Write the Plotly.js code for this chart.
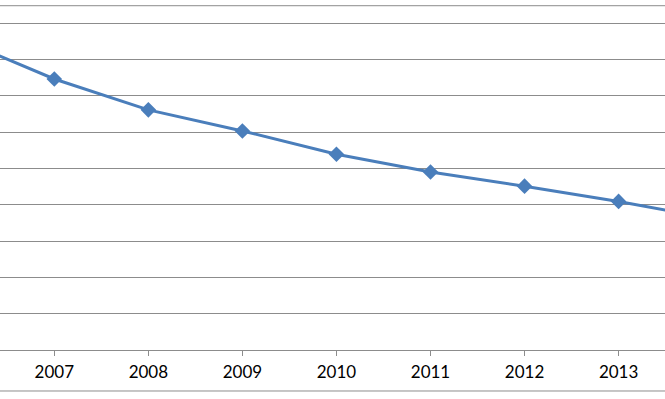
<!DOCTYPE html>
<html>
<head>
<meta charset="utf-8">
<script src="https://cdn.plot.ly/plotly-3.0.1.min.js"></script>
<style>html,body{margin:0;padding:0;background:#fff;}#chart{width:665px;height:399px;}</style>
</head>
<body>
<div id="chart"></div>
<script>
const years = [2006, 2007, 2008, 2009, 2010, 2011, 2012, 2013, 2014];
const values = [85.5, 74.6, 66.1, 60.3, 53.9, 49.0, 45.1, 40.9, 36.1];
const tickYears = [2007, 2008, 2009, 2010, 2011, 2012, 2013];
const tickLabels = ['2007', '2008', '2009', '2010', '2011', '2012', '2013'];

const trace = {
  x: years,
  y: values,
  type: 'scatter',
  mode: 'lines+markers',
  line: {color: '#4a7ebb', width: 3},
  marker: {symbol: 'diamond', size: 12, color: '#4a7ebb'},
  cliponaxis: true,
  hoverinfo: 'skip'
};

const layout = {
  width: 665,
  height: 399,
  margin: {l: 0, r: 0, t: 0, b: 49, pad: 0},
  paper_bgcolor: '#ffffff',
  plot_bgcolor: '#ffffff',
  showlegend: false,
  xaxis: {
    range: [2006.4226, 2013.4934],
    tickvals: tickYears,
    ticktext: tickLabels,
    showgrid: false,
    zeroline: false,
    showline: true,
    linecolor: '#8c8c8c',
    linewidth: 1,
    ticks: 'outside',
    ticklen: 5,
    tickcolor: '#8c8c8c',
    ticklabelstandoff: 2,
    tickfont: {family: 'Lato, "Noto Sans", sans-serif', size: 17, color: '#000'},
    fixedrange: true
  },
  yaxis: {
    range: [0, 96.34],
    dtick: 10,
    tick0: 0,
    showticklabels: false,
    showgrid: true,
    gridcolor: '#8c8c8c',
    gridwidth: 1,
    zeroline: false,
    showline: false,
    ticks: '',
    fixedrange: true
  },
  shapes: [
    {type: 'line', xref: 'paper', yref: 'paper', x0: 0, x1: 1, y0: 0.9837, y1: 0.9837, line: {color: '#8c8c8c', width: 1}},
    {type: 'line', xref: 'paper', yref: 'paper', x0: 0, x1: 1, y0: -0.1171, y1: -0.1171, line: {color: '#8c8c8c', width: 1}}
  ]
};

Plotly.newPlot('chart', [trace], layout, {displayModeBar: false, staticPlot: true});
</script>
</body>
</html>
